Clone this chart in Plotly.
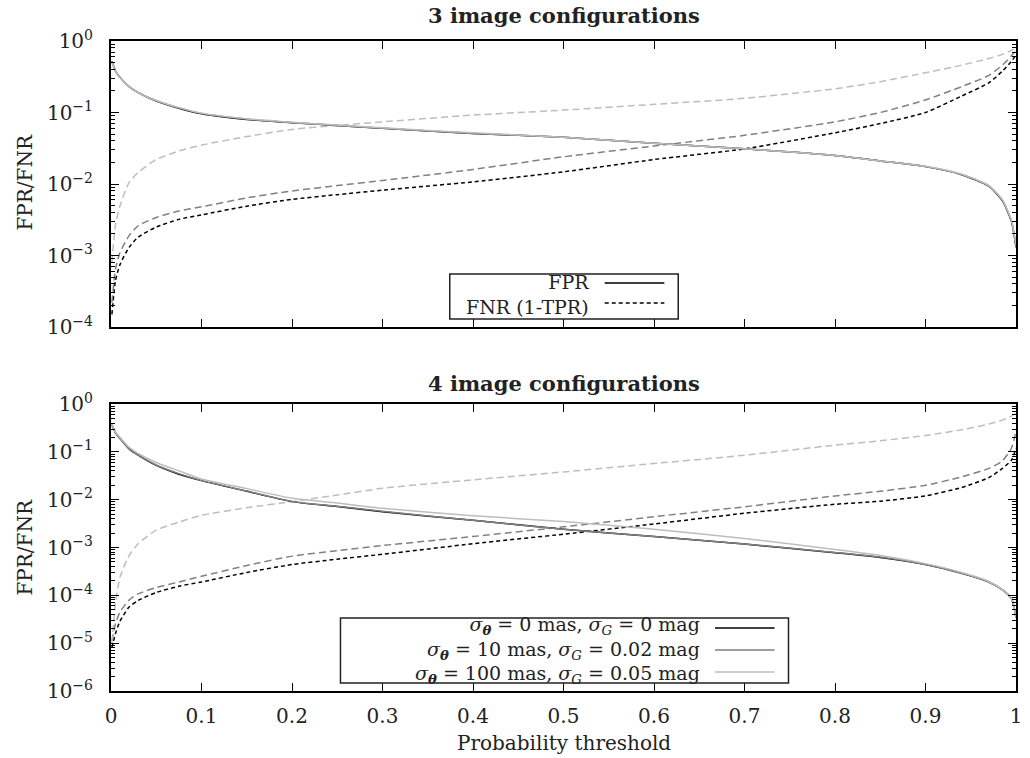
import plotly.graph_objects as go

# ---------------------------------------------------------------- data
threshold = [0.001, 0.005, 0.01, 0.02, 0.03, 0.05, 0.075, 0.1, 0.15, 0.2, 0.25, 0.3,
             0.4, 0.5, 0.6, 0.7, 0.8, 0.85, 0.9, 0.94, 0.97, 0.985, 0.995, 1.0]

# 3 image configurations
fpr3_s0 = [0.52, 0.38, 0.31, 0.23, 0.19, 0.145, 0.115, 0.096, 0.080, 0.072, 0.066, 0.060,
           0.051, 0.045, 0.037, 0.031, 0.025, 0.021, 0.0175, 0.0135, 0.0093, 0.0058, 0.0030, 0.0013]
fpr3_s10 = [0.52, 0.38, 0.31, 0.23, 0.19, 0.146, 0.116, 0.097, 0.081, 0.072, 0.066, 0.060,
            0.051, 0.045, 0.037, 0.031, 0.025, 0.021, 0.0176, 0.0136, 0.0094, 0.0059, 0.0030, 0.0013]
fpr3_s100 = [0.51, 0.38, 0.31, 0.23, 0.19, 0.147, 0.117, 0.098, 0.082, 0.073, 0.067, 0.061,
             0.052, 0.045, 0.037, 0.031, 0.025, 0.021, 0.0177, 0.0137, 0.0095, 0.0060, 0.0031, 0.0014]
fnr3_s0 = [1.5e-4, 4.5e-4, 7.5e-4, 0.0013, 0.0018, 0.0025, 0.0032, 0.0037, 0.0049, 0.0061, 0.0071, 0.0082,
           0.0107, 0.0148, 0.022, 0.031, 0.052, 0.070, 0.10, 0.17, 0.26, 0.38, 0.52, 0.64]
fnr3_s10 = [2.2e-4, 6.5e-4, 0.0011, 0.0019, 0.0026, 0.0034, 0.0042, 0.0048, 0.0064, 0.0080, 0.0095, 0.0112,
            0.0160, 0.024, 0.034, 0.048, 0.074, 0.10, 0.15, 0.23, 0.33, 0.46, 0.62, 0.75]
fnr3_s100 = [8e-4, 0.0027, 0.0050, 0.0105, 0.0145, 0.022, 0.029, 0.035, 0.046, 0.058, 0.066, 0.074,
             0.092, 0.108, 0.13, 0.158, 0.215, 0.27, 0.36, 0.46, 0.57, 0.65, 0.74, 0.80]

# 4 image configurations
fpr4_s0 = [0.37, 0.25, 0.19, 0.115, 0.085, 0.052, 0.034, 0.025, 0.015, 0.0091, 0.0072, 0.0056,
           0.0037, 0.0024, 0.0017, 0.00118, 7.8e-4, 6.2e-4, 4.4e-4, 2.9e-4, 1.9e-4, 1.3e-4, 8.5e-5, 3.4e-5]
fpr4_s10 = [0.37, 0.25, 0.19, 0.116, 0.086, 0.053, 0.035, 0.025, 0.0152, 0.0092, 0.0073, 0.0057,
            0.0037, 0.0024, 0.0017, 0.00119, 7.9e-4, 6.3e-4, 4.4e-4, 2.9e-4, 1.9e-4, 1.3e-4, 8.6e-5, 3.4e-5]
fpr4_s100 = [0.38, 0.26, 0.20, 0.125, 0.093, 0.060, 0.040, 0.027, 0.017, 0.0107, 0.0085, 0.0066,
             0.0046, 0.0035, 0.0024, 0.00155, 9.1e-4, 6.8e-4, 4.6e-4, 3.0e-4, 1.95e-4, 1.3e-4, 8.5e-5, 3.5e-5]
fnr4_s0 = [8e-6, 1.6e-5, 2.9e-5, 5.7e-5, 7.8e-5, 1.15e-4, 1.55e-4, 1.9e-4, 3.0e-4, 4.4e-4, 5.7e-4, 7.2e-4,
           0.0012, 0.0019, 0.0031, 0.0052, 0.0080, 0.0093, 0.012, 0.018, 0.029, 0.045, 0.067, 0.12]
fnr4_s10 = [1.1e-5, 2.6e-5, 4.5e-5, 8e-5, 1.07e-4, 1.45e-4, 1.9e-4, 2.5e-4, 4.2e-4, 6.6e-4, 8.6e-4, 0.0011,
            0.0017, 0.0027, 0.0044, 0.0071, 0.012, 0.015, 0.020, 0.030, 0.045, 0.065, 0.12, 0.27]
fnr4_s100 = [1e-5, 7e-5, 2.4e-4, 6.8e-4, 0.0012, 0.0023, 0.0034, 0.0047, 0.0068, 0.0091, 0.0125, 0.0173,
             0.026, 0.038, 0.057, 0.085, 0.138, 0.17, 0.22, 0.29, 0.38, 0.46, 0.56, 0.64]

x_ticks = [0, 0.1, 0.2, 0.3, 0.4, 0.5, 0.6, 0.7, 0.8, 0.9, 1]
x_tick_labels = ["0", "0.1", "0.2", "0.3", "0.4", "0.5", "0.6", "0.7", "0.8", "0.9", "1"]
y3_ticks = [1e-4, 1e-3, 1e-2, 1e-1, 1]
y3_tick_labels = ["10<sup>\u22124</sup>", "10<sup>\u22123</sup>", "10<sup>\u22122</sup>",
                  "10<sup>\u22121</sup>", "10<sup>0</sup>"]
y4_ticks = [1e-6, 1e-5, 1e-4, 1e-3, 1e-2, 1e-1, 1]
y4_tick_labels = ["10<sup>\u22126</sup>", "10<sup>\u22125</sup>", "10<sup>\u22124</sup>",
                  "10<sup>\u22123</sup>", "10<sup>\u22122</sup>", "10<sup>\u22121</sup>",
                  "10<sup>0</sup>"]

config_labels = [
    "<i>σ</i><sub><b><i>θ</i></b></sub> = 0 mas, <i>σ</i><sub><i>G</i></sub> = 0 mag",
    "<i>σ</i><sub><b><i>θ</i></b></sub> = 10 mas, <i>σ</i><sub><i>G</i></sub> = 0.02 mag",
    "<i>σ</i><sub><b><i>θ</i></b></sub> = 100 mas, <i>σ</i><sub><i>G</i></sub> = 0.05 mag",
]
rate_labels = ["FPR", "FNR (1-TPR)"]

# ---------------------------------------------------------------- style
FONT = "DejaVu Serif"
FS = 20
TXT = "#222222"
BLACK, DGRAY, LGRAY = "#000000", "#808080", "#bdbdbd"
config_colors = [BLACK, DGRAY, LGRAY]
config_dash = ["4px,3px", "7px,4px", "7px,4px"]

W, H = 1030, 758
ML, MR, MT, MB = 111, 8, 41, 67
PW, PH = W - ML - MR, H - MT - MB


def fx(px):
    return (px - ML) / PW


def fy(py):
    return (H - MB - py) / PH


fig = go.Figure()

panels = [
    ("x", "y", [fpr3_s0, fpr3_s10, fpr3_s100], [fnr3_s0, fnr3_s10, fnr3_s100]),
    ("x2", "y2", [fpr4_s0, fpr4_s10, fpr4_s100], [fnr4_s0, fnr4_s10, fnr4_s100]),
]
for xa, ya, fprs, fnrs in panels:
    for i in range(3):
        fig.add_trace(go.Scatter(x=threshold, y=fnrs[i], mode="lines", xaxis=xa, yaxis=ya,
                                 line=dict(color=config_colors[i], width=1.5, dash=config_dash[i],
                                           shape="spline", smoothing=0.6),
                                 showlegend=False, hoverinfo="skip"))
    for i in range(3):
        fig.add_trace(go.Scatter(x=threshold, y=fprs[i], mode="lines", xaxis=xa, yaxis=ya,
                                 line=dict(color=config_colors[i], width=1.5,
                                           shape="spline", smoothing=0.6),
                                 showlegend=False, hoverinfo="skip"))

tick_font = dict(family=FONT, size=FS, color=TXT)
common_x = dict(range=[0, 1], tickvals=x_ticks, ticks="inside", ticklen=8, tickwidth=1,
                tickcolor="#000", showline=True, linewidth=2, linecolor="#000", mirror="ticks",
                showgrid=False, zeroline=False, tickfont=tick_font, ticklabelstandoff=6)


def minor_vals(lo, hi):
    return [m * 10 ** e for e in range(lo, hi) for m in range(2, 10)]


common_y = dict(type="log", ticks="inside", ticklen=8, tickwidth=1, tickcolor="#000",
                showline=True, linewidth=2, linecolor="#000", mirror="ticks",
                showgrid=False, zeroline=False, tickfont=tick_font, ticklabelstandoff=12)

fig.update_layout(
    width=W, height=H,
    margin=dict(l=ML, r=MR, t=MT, b=MB),
    paper_bgcolor="white", plot_bgcolor="white",
    font=dict(family=FONT, size=FS, color=TXT),
    xaxis=dict(common_x, domain=[0, 1], anchor="y", ticktext=x_tick_labels, showticklabels=False),
    yaxis=dict(common_y, domain=[fy(327), 1], anchor="x", range=[-4, 0],
               tickvals=y3_ticks, ticktext=y3_tick_labels,
               minor=dict(tickvals=minor_vals(-4, 0), ticks="inside", ticklen=4,
                          tickcolor="#000", showgrid=False)),
    xaxis2=dict(common_x, domain=[0, 1], anchor="y2", ticktext=x_tick_labels),
    yaxis2=dict(common_y, domain=[0, fy(404)], anchor="x2", range=[-6, 0],
                tickvals=y4_ticks, ticktext=y4_tick_labels,
                minor=dict(tickvals=minor_vals(-6, 0), ticks="inside", ticklen=4,
                           tickcolor="#000", showgrid=False)),
)


def label(text, px, py, xanchor="center", angle=0, size=FS, align="center"):
    return dict(text=text, x=fx(px), y=fy(py), xref="paper", yref="paper",
                xanchor=xanchor, yanchor="middle", showarrow=False, textangle=angle,
                align=align, font=dict(family=FONT, size=size, color=TXT))


ann = []
# panel titles
ann.append(label("<b>3 image configurations</b>", 566.5, 16, size=21))
ann.append(label("<b>4 image configurations</b>", 566.5, 383, size=21))
# axis titles
for yc in (182, 547):
    ann.append(label("FPR/FNR", 24, yc, angle=-90))
ann.append(label("Probability threshold", 566.5, 743))

shapes = []
# legend for the line styles (top panel)
shapes.append(dict(type="rect", xref="paper", yref="paper", x0=fx(452), x1=fx(682),
                   y0=fy(319), y1=fy(274), line=dict(color="#222", width=1.5), fillcolor="white",
                   layer="above"))
ann.append(label("<br>".join(rate_labels), 594, 294, xanchor="right", align="right", size=19))
for row, dash in zip((283, 303), ("solid", "4px,3px")):
    shapes.append(dict(type="line", xref="paper", yref="paper", x0=fx(608), x1=fx(668),
                       y0=fy(row), y1=fy(row), line=dict(color=BLACK, width=1.5, dash=dash)))

# legend for the error configurations (bottom panel)
shapes.append(dict(type="rect", xref="paper", yref="paper", x0=fx(342), x1=fx(793),
                   y0=fy(683), y1=fy(618), line=dict(color="#222", width=1.5), fillcolor="white",
                   layer="above"))
ann.append(label("<br>".join(config_labels), 706, 650, xanchor="right", align="right", size=19))
for row, col in zip((628, 650, 672), config_colors):
    shapes.append(dict(type="line", xref="paper", yref="paper", x0=fx(719), x1=fx(779),
                       y0=fy(row), y1=fy(row), line=dict(color=col, width=1.5)))

fig.update_layout(annotations=ann, shapes=shapes)
fig.write_html("out.html")
